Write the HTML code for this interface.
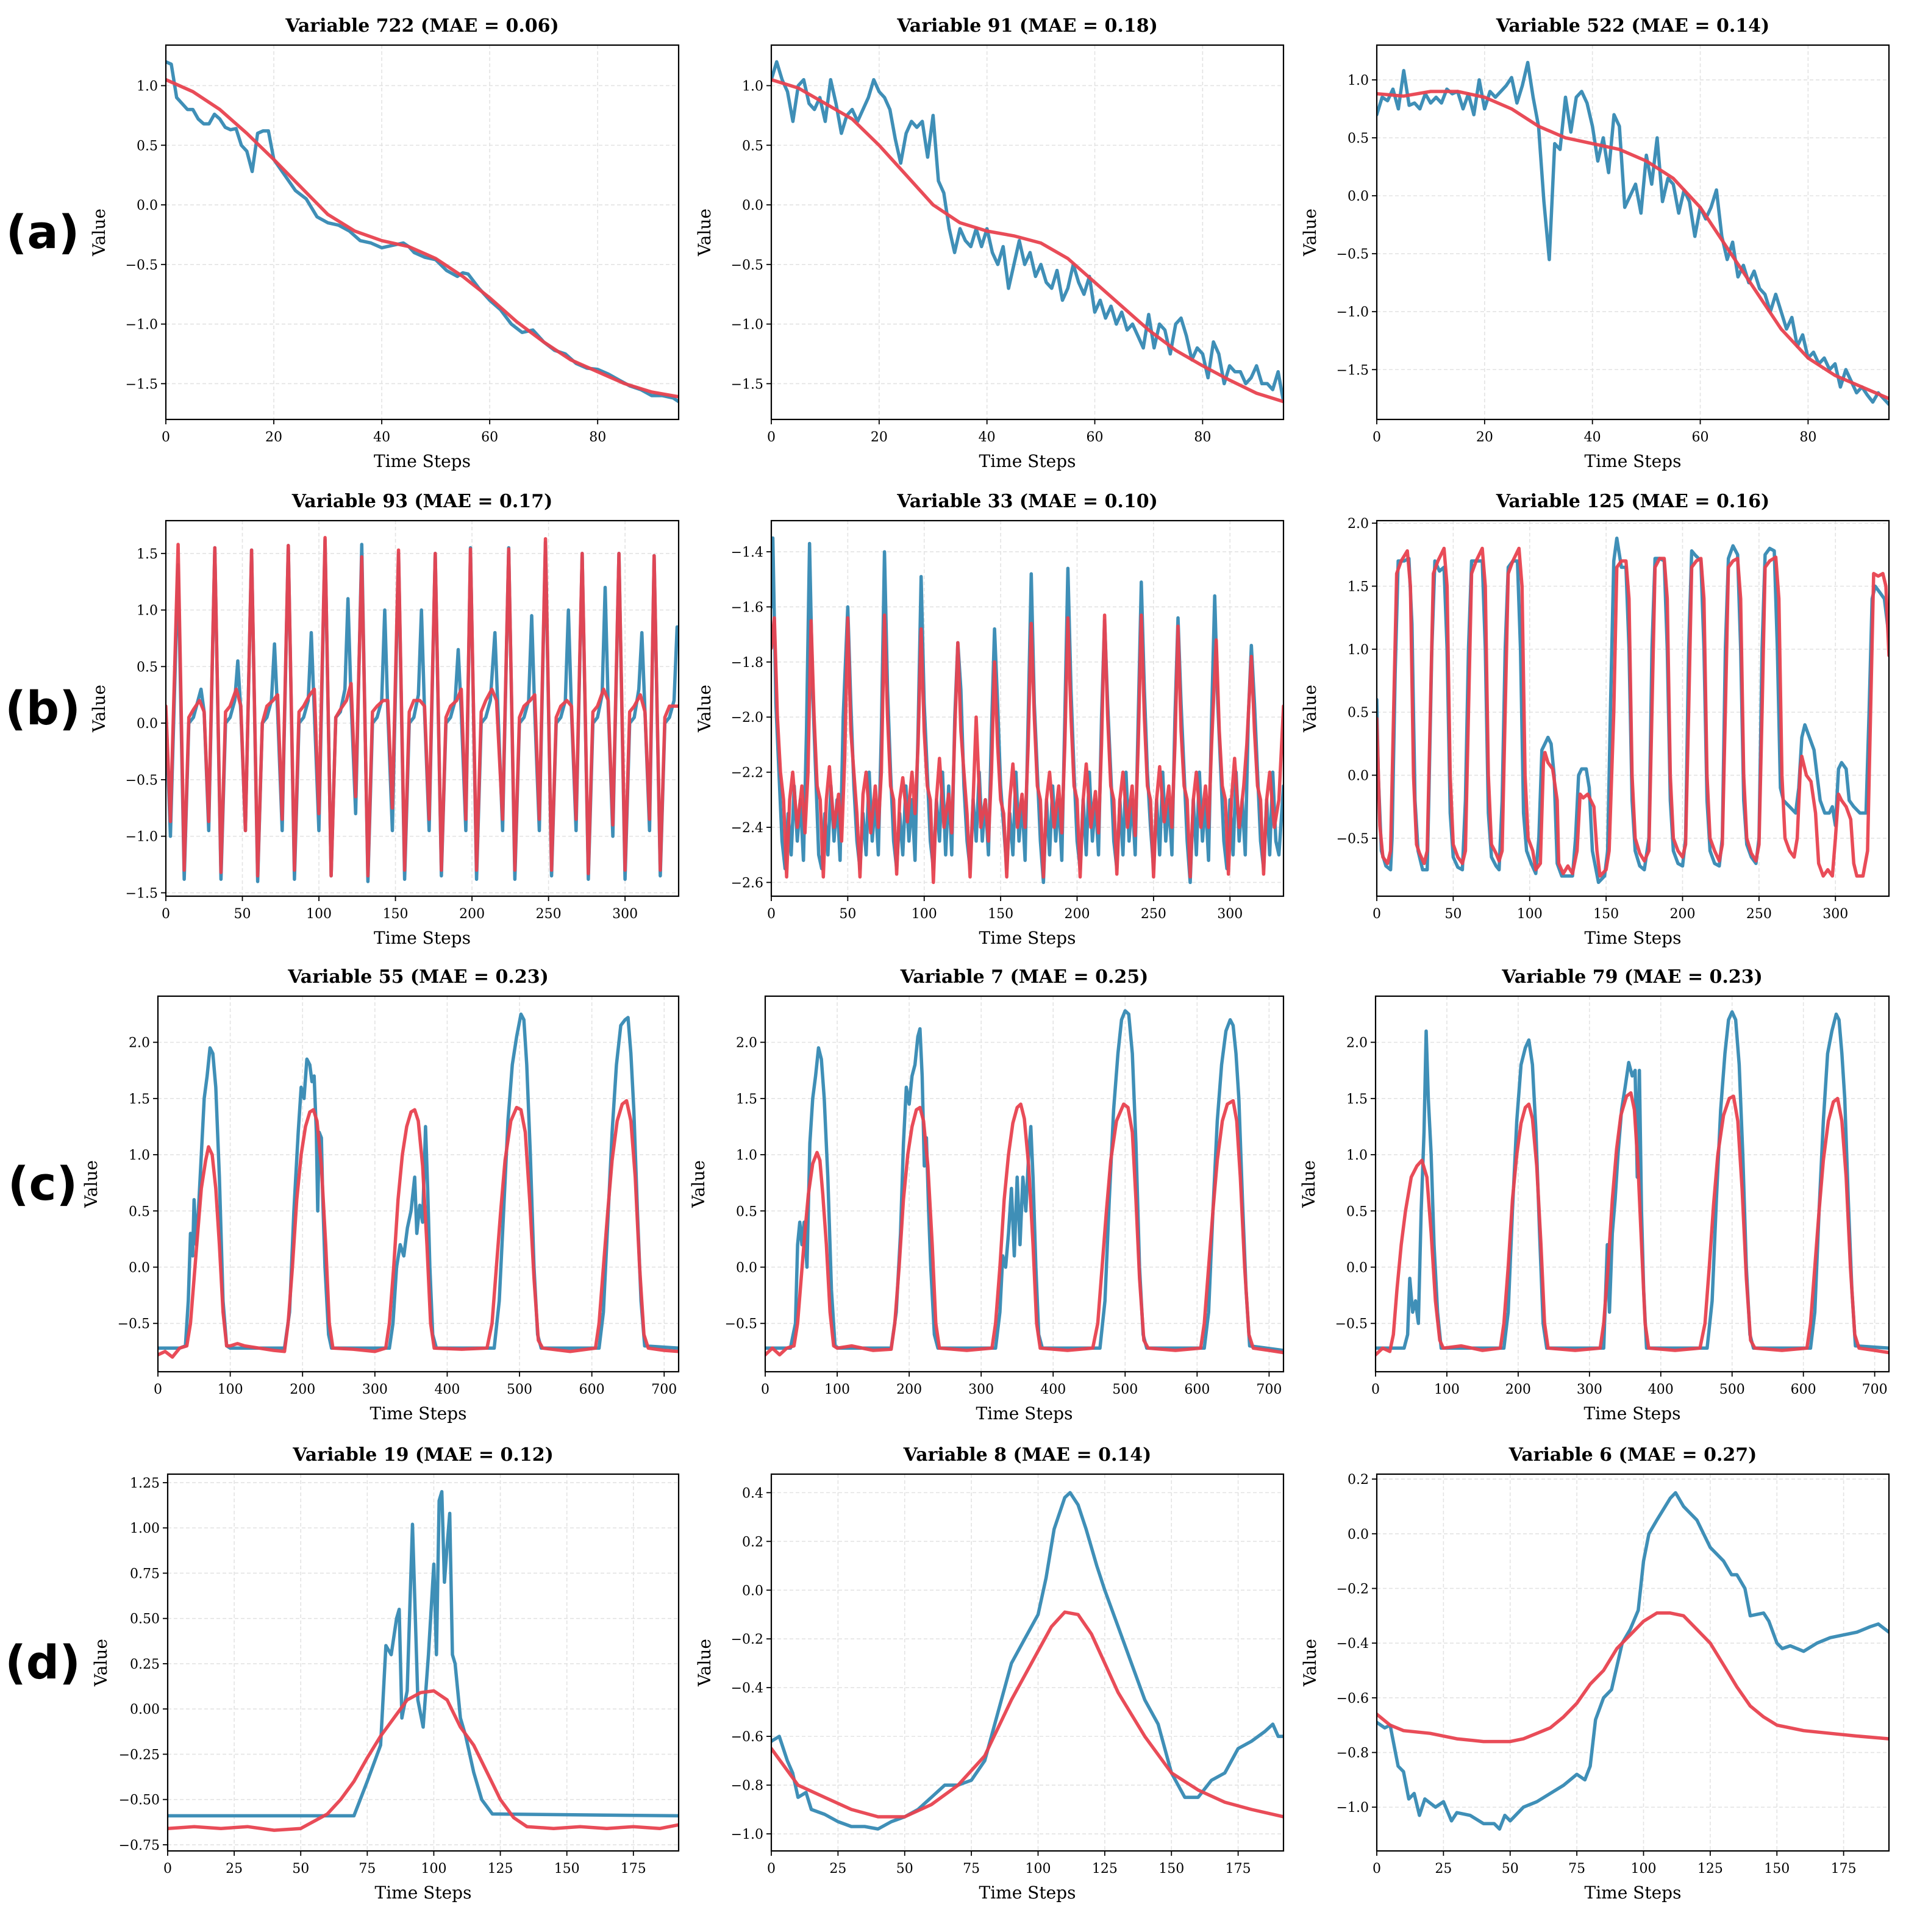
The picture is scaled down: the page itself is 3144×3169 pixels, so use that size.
<!DOCTYPE html>
<html><head><meta charset="utf-8"><title>Forecast panels</title>
<style>
html,body{margin:0;padding:0;background:#fff;}
svg{display:block;}
</style></head>
<body>
<svg id="fig" xmlns="http://www.w3.org/2000/svg" width="3144" height="3169" viewBox="0 0 3144 3169">
<rect width="3144" height="3169" fill="#fff"/>
</svg>
<script>
// ---------- tick arrays ----------
const ticksXa = [0,20,40,60,80];
const ticksXb = [0,50,100,150,200,250,300];
const ticksXc = [0,100,200,300,400,500,600,700];
const ticksXd = [0,25,50,75,100,125,150,175];
const ticksYa = [-1.5,-1.0,-0.5,0.0,0.5,1.0];
const ticksYb1 = [-1.5,-1.0,-0.5,0.0,0.5,1.0,1.5];
const ticksYb2 = [-2.6,-2.4,-2.2,-2.0,-1.8,-1.6,-1.4];
const ticksYb3 = [-0.5,0.0,0.5,1.0,1.5,2.0];
const ticksYc = [-0.5,0.0,0.5,1.0,1.5,2.0];
const ticksYd1 = [-0.75,-0.5,-0.25,0.0,0.25,0.5,0.75,1.0,1.25];
const ticksYd2 = [-1.0,-0.8,-0.6,-0.4,-0.2,0.0,0.2,0.4];
const ticksYd3 = [-1.0,-0.8,-0.6,-0.4,-0.2,0.0,0.2];

// ---------- series data [timeStep, value] ----------
const a1Actual = [[0,1.2],[1,1.18],[2,0.9],[3,0.85],[4,0.8],[5,0.8],[6,0.72],[7,0.68],[8,0.68],[9,0.76],[10,0.72],[11,0.65],[12,0.63],[13,0.64],[14,0.5],[15,0.45],[16,0.28],[17,0.6],[18,0.62],[19,0.62],[20,0.38],[22,0.25],[24,0.12],[26,0.05],[28,-0.1],[30,-0.15],[32,-0.17],[34,-0.22],[36,-0.3],[38,-0.32],[40,-0.36],[42,-0.34],[44,-0.32],[45,-0.35],[46,-0.4],[48,-0.44],[50,-0.46],[52,-0.55],[54,-0.6],[55,-0.57],[56,-0.58],[58,-0.7],[60,-0.8],[62,-0.88],[64,-1.0],[66,-1.07],[68,-1.05],[70,-1.15],[72,-1.22],[74,-1.25],[76,-1.33],[78,-1.37],[80,-1.38],[82,-1.42],[84,-1.47],[86,-1.52],[88,-1.55],[90,-1.6],[92,-1.6],[94,-1.62],[95,-1.65]];
const a1Pred = [[0,1.05],[5,0.95],[10,0.8],[15,0.6],[20,0.38],[25,0.15],[30,-0.08],[35,-0.22],[40,-0.3],[45,-0.35],[50,-0.45],[55,-0.6],[60,-0.78],[65,-0.98],[70,-1.15],[75,-1.3],[80,-1.4],[85,-1.5],[90,-1.57],[95,-1.61]];
const a2Actual = [[0,1.05],[1,1.2],[2,1.05],[3,0.95],[4,0.7],[5,1.0],[6,1.05],[7,0.85],[8,0.8],[9,0.9],[10,0.7],[11,1.05],[12,0.85],[13,0.6],[14,0.75],[15,0.8],[16,0.7],[17,0.8],[18,0.9],[19,1.05],[20,0.95],[21,0.9],[22,0.8],[23,0.55],[24,0.35],[25,0.6],[26,0.7],[27,0.65],[28,0.7],[29,0.4],[30,0.75],[31,0.2],[32,0.1],[33,-0.2],[34,-0.4],[35,-0.2],[36,-0.3],[37,-0.35],[38,-0.2],[39,-0.35],[40,-0.2],[41,-0.4],[42,-0.5],[43,-0.35],[44,-0.7],[45,-0.5],[46,-0.3],[47,-0.5],[48,-0.4],[49,-0.6],[50,-0.5],[51,-0.65],[52,-0.7],[53,-0.55],[54,-0.8],[55,-0.7],[56,-0.5],[57,-0.65],[58,-0.75],[59,-0.6],[60,-0.9],[61,-0.8],[62,-0.95],[63,-0.85],[64,-1.0],[65,-0.9],[66,-1.05],[67,-1.0],[68,-1.1],[69,-1.2],[70,-0.92],[71,-1.2],[72,-1.0],[73,-1.05],[74,-1.25],[75,-1.0],[76,-0.95],[77,-1.1],[78,-1.3],[79,-1.2],[80,-1.25],[81,-1.45],[82,-1.15],[83,-1.25],[84,-1.5],[85,-1.35],[86,-1.4],[87,-1.4],[88,-1.5],[89,-1.45],[90,-1.35],[91,-1.5],[92,-1.5],[93,-1.55],[94,-1.4],[95,-1.65]];
const a2Pred = [[0,1.05],[5,0.98],[10,0.85],[15,0.72],[20,0.5],[25,0.25],[30,0.0],[35,-0.15],[40,-0.22],[45,-0.26],[50,-0.32],[55,-0.45],[60,-0.65],[65,-0.85],[70,-1.05],[75,-1.22],[80,-1.35],[85,-1.47],[90,-1.58],[95,-1.65]];
const a3Actual = [[0,0.7],[1,0.85],[2,0.82],[3,0.92],[4,0.75],[5,1.08],[6,0.78],[7,0.8],[8,0.75],[9,0.88],[10,0.8],[11,0.85],[12,0.8],[13,0.92],[14,0.88],[15,0.9],[16,0.75],[17,0.88],[18,0.7],[19,1.0],[20,0.75],[21,0.9],[22,0.85],[23,0.9],[24,0.95],[25,1.02],[26,0.8],[27,0.95],[28,1.15],[29,0.85],[30,0.6],[31,-0.05],[32,-0.55],[33,0.45],[34,0.4],[35,0.85],[36,0.55],[37,0.85],[38,0.9],[39,0.8],[40,0.6],[41,0.3],[42,0.5],[43,0.2],[44,0.7],[45,0.6],[46,-0.1],[47,0.0],[48,0.1],[49,-0.15],[50,0.35],[51,0.1],[52,0.5],[53,-0.05],[54,0.15],[55,0.1],[56,-0.15],[57,0.05],[58,-0.05],[59,-0.35],[60,-0.1],[61,-0.2],[62,-0.1],[63,0.05],[64,-0.35],[65,-0.55],[66,-0.4],[67,-0.7],[68,-0.6],[69,-0.75],[70,-0.65],[71,-0.8],[72,-0.85],[73,-1.0],[74,-0.85],[75,-1.0],[76,-1.15],[77,-1.05],[78,-1.3],[79,-1.2],[80,-1.4],[81,-1.35],[82,-1.45],[83,-1.4],[84,-1.5],[85,-1.45],[86,-1.65],[87,-1.5],[88,-1.6],[89,-1.7],[90,-1.65],[91,-1.72],[92,-1.78],[93,-1.7],[94,-1.75],[95,-1.8]];
const a3Pred = [[0,0.88],[5,0.86],[10,0.9],[15,0.9],[20,0.85],[25,0.75],[30,0.6],[35,0.5],[40,0.45],[45,0.4],[50,0.3],[55,0.15],[60,-0.1],[65,-0.45],[70,-0.8],[75,-1.15],[80,-1.4],[85,-1.55],[90,-1.65],[95,-1.75]];

const b1Actual = [[0,0.1],[3,-1.0],[8,1.4],[12,-1.38],[15,0.0],[18,0.05],[21,0.2],[23,0.3],[25,0.1],[28,-0.95],
[32,1.55],[36,-1.38],[39,0.0],[42,0.05],[45,0.2],[47,0.55],[49,0.1],[52,-0.95],
[56,1.53],[60,-1.4],[63,0.0],[66,0.05],[69,0.2],[71,0.7],[73,0.1],[76,-0.95],
[80,1.57],[84,-1.38],[87,0.0],[90,0.05],[93,0.2],[95,0.8],[97,0.1],[100,-0.95],
[104,1.62],[108,-1.35],[111,0.05],[114,0.1],[117,0.3],[119,1.1],[121,0.2],[124,-0.8],
[128,1.58],[132,-1.4],[135,0.0],[138,0.05],[141,0.2],[143,1.0],[145,0.1],[148,-0.95],
[152,1.5],[156,-1.38],[159,0.0],[162,0.05],[165,0.25],[167,1.0],[169,0.1],[172,-0.95],
[176,1.5],[180,-1.35],[183,0.0],[186,0.05],[189,0.2],[191,0.65],[193,0.1],[196,-0.95],
[199,1.55],[203,-1.38],[206,0.0],[209,0.05],[212,0.2],[215,0.8],[217,0.1],[220,-0.95],
[224,1.55],[228,-1.38],[231,0.0],[234,0.05],[237,0.2],[239,0.95],[241,0.1],[244,-0.95],
[248,1.6],[252,-1.35],[255,0.0],[258,0.05],[261,0.2],[263,1.0],[265,0.1],[268,-0.95],
[272,1.5],[276,-1.38],[279,0.0],[282,0.05],[285,0.25],[287,1.2],[289,0.15],[292,-1.0],
[296,1.5],[300,-1.38],[303,0.0],[306,0.05],[309,0.3],[311,0.8],[313,0.1],[316,-0.95],
[319,1.48],[323,-1.35],[326,0.0],[329,0.05],[332,0.2],[334,0.85],[335,0.75]];
const b1Pred = [[0,0.15],[3,-0.87],[8,1.58],[12,-1.3],[15,0.05],[18,0.12],[22,0.2],[25,0.1],[28,-0.87],
[32,1.55],[36,-1.32],[39,0.1],[42,0.15],[46,0.3],[49,0.15],[52,-0.95],
[56,1.53],[60,-1.35],[63,0.0],[66,0.15],[70,0.2],[73,0.25],[76,-0.85],
[80,1.57],[84,-1.3],[87,0.1],[90,0.15],[94,0.25],[97,0.3],[100,-0.8],
[104,1.64],[108,-1.35],[111,0.05],[114,0.12],[118,0.2],[121,0.35],[124,-0.65],
[128,1.47],[132,-1.35],[135,0.1],[138,0.15],[142,0.2],[145,0.2],[148,-0.75],
[152,1.53],[156,-1.3],[159,0.1],[162,0.2],[166,0.2],[169,0.15],[172,-0.85],
[176,1.5],[180,-1.3],[183,0.05],[186,0.15],[190,0.2],[193,0.3],[196,-0.85],
[199,1.54],[203,-1.3],[206,0.1],[209,0.2],[213,0.3],[216,0.2],[220,-0.85],
[224,1.54],[228,-1.3],[231,0.05],[234,0.15],[238,0.2],[241,0.25],[244,-0.85],
[248,1.63],[252,-1.3],[255,0.05],[258,0.15],[262,0.2],[265,0.15],[268,-0.85],
[272,1.5],[276,-1.33],[279,0.1],[282,0.15],[286,0.3],[289,0.2],[292,-0.9],
[296,1.5],[300,-1.3],[303,0.1],[306,0.15],[310,0.25],[313,0.1],[316,-0.85],
[319,1.48],[323,-1.3],[326,0.05],[329,0.15],[333,0.15],[335,0.15]];

const b2Actual = [[0,-1.6],[1,-1.35],[3,-1.95],[5,-2.2],[7,-2.45],[9,-2.55],[11,-2.35],[13,-2.5],[15,-2.25],[17,-2.45],[19,-2.3],[21,-2.52],[23,-2.05],
[25,-1.37],[27,-1.9],[29,-2.2],[31,-2.5],[33,-2.55],[35,-2.35],[37,-2.5],[39,-2.25],[41,-2.45],[43,-2.3],[45,-2.52],[47,-2.0],
[50,-1.6],[52,-1.95],[54,-2.25],[56,-2.45],[58,-2.55],[60,-2.35],[62,-2.5],[64,-2.2],[66,-2.45],[68,-2.3],[70,-2.5],[72,-2.05],
[74,-1.4],[76,-1.9],[78,-2.2],[80,-2.45],[82,-2.55],[84,-2.35],[86,-2.5],[88,-2.25],[90,-2.45],[92,-2.3],[94,-2.52],[96,-2.05],
[98,-1.49],[100,-1.95],[102,-2.2],[104,-2.45],[106,-2.55],[108,-2.3],[110,-2.45],[112,-2.2],[114,-2.5],[116,-2.25],[118,-2.5],[120,-2.0],
[122,-1.73],[124,-1.9],[126,-2.25],[128,-2.45],[130,-2.55],[132,-2.3],[134,-2.45],[136,-2.2],[138,-2.45],[140,-2.3],[142,-2.5],[144,-2.05],
[146,-1.68],[148,-1.95],[150,-2.25],[152,-2.4],[154,-2.55],[156,-2.35],[158,-2.5],[160,-2.2],[162,-2.45],[164,-2.3],[166,-2.52],[168,-2.0],
[170,-1.48],[172,-1.95],[174,-2.2],[176,-2.45],[178,-2.6],[180,-2.3],[182,-2.5],[184,-2.25],[186,-2.45],[188,-2.3],[190,-2.52],[192,-2.0],
[194,-1.46],[196,-1.9],[198,-2.2],[200,-2.45],[202,-2.55],[204,-2.3],[206,-2.5],[208,-2.2],[210,-2.45],[212,-2.3],[214,-2.5],[216,-2.0],
[218,-1.65],[220,-1.95],[222,-2.2],[224,-2.45],[226,-2.55],[228,-2.3],[230,-2.5],[232,-2.2],[234,-2.45],[236,-2.3],[238,-2.5],[240,-2.0],
[242,-1.51],[244,-1.9],[246,-2.2],[248,-2.4],[250,-2.55],[252,-2.3],[254,-2.5],[256,-2.2],[258,-2.45],[260,-2.3],[262,-2.5],[264,-2.0],
[266,-1.64],[268,-1.95],[270,-2.2],[272,-2.45],[274,-2.6],[276,-2.3],[278,-2.5],[280,-2.2],[282,-2.45],[284,-2.3],[286,-2.52],[288,-2.0],
[290,-1.56],[292,-1.95],[294,-2.2],[296,-2.45],[298,-2.55],[300,-2.3],[302,-2.5],[304,-2.2],[306,-2.45],[308,-2.3],[310,-2.5],[312,-2.0],
[314,-1.74],[316,-1.95],[318,-2.2],[320,-2.45],[322,-2.55],[324,-2.3],[326,-2.5],[328,-2.2],[330,-2.45],[332,-2.5],[335,-2.25]];
const b2Pred = [[0,-1.75],[2,-1.64],[4,-2.0],[6,-2.2],[8,-2.3],[10,-2.58],[12,-2.3],[14,-2.2],[17,-2.4],[20,-2.25],[22,-2.42],[24,-2.2],
[26,-1.65],[28,-2.0],[30,-2.25],[32,-2.3],[34,-2.58],[36,-2.3],[38,-2.18],[41,-2.4],[44,-2.28],[46,-2.45],[48,-2.15],
[50,-1.64],[52,-2.05],[54,-2.2],[56,-2.35],[58,-2.58],[60,-2.28],[62,-2.2],[65,-2.42],[68,-2.25],[70,-2.4],[72,-2.2],
[74,-1.63],[76,-2.0],[78,-2.25],[80,-2.3],[82,-2.57],[84,-2.3],[86,-2.22],[89,-2.38],[92,-2.2],[94,-2.35],[96,-2.1],
[98,-1.68],[100,-2.05],[102,-2.25],[104,-2.3],[106,-2.6],[108,-2.3],[110,-2.15],[113,-2.4],[116,-2.28],[118,-2.42],[120,-2.05],
[122,-1.73],[124,-2.05],[126,-2.2],[128,-2.35],[130,-2.58],[132,-2.3],[134,-2.0],[137,-2.4],[140,-2.3],[142,-2.45],[144,-2.2],
[146,-1.8],[148,-2.1],[150,-2.3],[152,-2.35],[154,-2.58],[156,-2.3],[158,-2.17],[161,-2.4],[164,-2.28],[166,-2.4],[168,-2.1],
[170,-1.66],[172,-2.0],[174,-2.25],[176,-2.3],[178,-2.58],[180,-2.3],[182,-2.2],[185,-2.4],[188,-2.25],[190,-2.42],[192,-2.1],
[194,-1.64],[196,-2.0],[198,-2.25],[200,-2.3],[202,-2.58],[204,-2.3],[206,-2.17],[209,-2.4],[212,-2.27],[214,-2.42],[216,-2.1],
[218,-1.63],[220,-2.0],[222,-2.25],[224,-2.3],[226,-2.57],[228,-2.3],[230,-2.2],[233,-2.4],[236,-2.25],[238,-2.43],[240,-2.1],
[242,-1.63],[244,-2.0],[246,-2.25],[248,-2.3],[250,-2.58],[252,-2.3],[254,-2.18],[257,-2.38],[260,-2.25],[262,-2.4],[264,-2.1],
[266,-1.67],[268,-2.05],[270,-2.25],[272,-2.3],[274,-2.58],[276,-2.3],[278,-2.2],[281,-2.4],[284,-2.25],[286,-2.4],[288,-2.1],
[291,-1.72],[293,-2.05],[295,-2.25],[297,-2.3],[299,-2.57],[301,-2.3],[303,-2.15],[306,-2.4],[309,-2.25],[311,-2.1],
[314,-1.78],[316,-2.05],[318,-2.25],[320,-2.3],[322,-2.57],[324,-2.3],[326,-2.2],[329,-2.4],[332,-2.3],[335,-1.96]];

const b3Actual = [[0,0.6],[1,0.0],[3,-0.6],[6,-0.72],[9,-0.75],[10,-0.5],[12,0.8],[14,1.7],[18,1.7],[21,1.72],[23,1.2],[25,-0.2],[27,-0.6],[30,-0.75],[33,-0.75],
[34,-0.2],[36,1.0],[38,1.7],[41,1.62],[44,1.65],[46,1.0],[48,-0.3],[50,-0.65],[53,-0.73],[56,-0.75],[58,-0.2],
[60,1.0],[62,1.7],[66,1.7],[69,1.7],[71,1.0],[73,-0.3],[75,-0.65],[78,-0.72],[80,-0.75],[82,-0.2],
[84,1.0],[86,1.65],[89,1.7],[92,1.7],[94,1.0],[96,-0.3],[98,-0.6],[101,-0.7],[104,-0.78],[106,-0.5],
[108,0.2],[110,0.25],[112,0.3],[114,0.25],[116,0.0],[118,-0.7],[121,-0.8],[125,-0.8],[128,-0.8],[130,-0.5],
[132,0.0],[134,0.05],[137,0.05],[139,-0.1],[141,-0.6],[145,-0.85],[149,-0.8],[151,-0.6],
[153,0.6],[155,1.7],[157,1.88],[160,1.65],[163,1.65],[165,1.0],[167,-0.2],[169,-0.6],[172,-0.72],[175,-0.75],[178,-0.5],
[180,1.0],[182,1.72],[185,1.72],[188,1.7],[190,1.0],[192,-0.2],[194,-0.6],[197,-0.7],[200,-0.72],[202,-0.5],
[204,1.0],[206,1.78],[208,1.75],[212,1.7],[214,1.0],[216,-0.2],[218,-0.6],[221,-0.7],[224,-0.72],[226,-0.5],
[228,1.0],[230,1.72],[233,1.82],[236,1.75],[238,1.0],[240,-0.2],[242,-0.55],[245,-0.65],[248,-0.7],[250,-0.5],
[252,1.0],[254,1.75],[257,1.8],[260,1.78],[262,1.0],[264,-0.1],[266,-0.2],[270,-0.25],[274,-0.3],[276,-0.1],
[278,0.3],[280,0.4],[283,0.3],[286,0.2],[288,0.0],[290,-0.2],[293,-0.3],[296,-0.3],[298,-0.25],[300,-0.4],
[302,0.05],[304,0.1],[307,0.05],[309,-0.2],[312,-0.25],[316,-0.3],[320,-0.3],[322,0.5],
[324,1.4],[326,1.5],[329,1.45],[332,1.4],[335,1.1]];
const b3Pred = [[0,0.45],[2,-0.4],[4,-0.65],[7,-0.7],[9,-0.6],[11,0.5],[13,1.6],[16,1.7],[20,1.78],[22,1.5],[24,0.0],[26,-0.55],[28,-0.62],[31,-0.7],[33,-0.6],
[35,0.5],[37,1.6],[40,1.7],[44,1.8],[46,1.5],[48,0.0],[50,-0.55],[53,-0.65],[56,-0.7],[58,-0.6],
[60,0.5],[62,1.6],[65,1.7],[69,1.8],[71,1.5],[73,0.0],[75,-0.55],[78,-0.62],[80,-0.68],[82,-0.6],
[84,0.5],[86,1.6],[89,1.7],[93,1.8],[95,1.5],[97,0.0],[99,-0.5],[102,-0.6],[104,-0.75],[107,-0.7],
[109,0.1],[110,0.18],[112,0.1],[115,0.05],[118,-0.2],[119,-0.7],[122,-0.78],[125,-0.72],[128,-0.78],[131,-0.6],
[133,-0.15],[135,-0.18],[138,-0.15],[142,-0.25],[144,-0.6],[146,-0.8],[150,-0.75],[152,-0.6],
[155,0.5],[157,1.65],[160,1.7],[163,1.7],[165,1.4],[167,0.0],[169,-0.5],[172,-0.62],[175,-0.68],[178,-0.6],
[180,0.5],[182,1.65],[185,1.72],[188,1.72],[190,1.4],[192,0.0],[194,-0.5],[197,-0.6],[200,-0.65],[202,-0.55],
[204,0.5],[206,1.65],[209,1.7],[212,1.72],[214,1.4],[216,0.0],[218,-0.5],[221,-0.6],[224,-0.68],[226,-0.55],
[228,0.5],[230,1.65],[233,1.7],[236,1.72],[238,1.4],[240,0.0],[242,-0.5],[245,-0.62],[248,-0.68],[250,-0.55],
[252,0.5],[254,1.65],[257,1.7],[261,1.73],[263,1.4],[265,0.0],[267,-0.5],[270,-0.6],[273,-0.65],[275,-0.5],
[277,0.05],[278,0.15],[281,0.0],[284,-0.05],[287,-0.3],[289,-0.7],[292,-0.8],[295,-0.75],[298,-0.8],[300,-0.5],
[302,-0.15],[304,-0.2],[307,-0.25],[310,-0.35],[312,-0.7],[314,-0.8],[318,-0.8],[321,-0.6],
[323,0.5],[325,1.6],[328,1.58],[331,1.6],[333,1.5],[335,0.95]];

const c1Actual = [[0,-0.72],[30,-0.72],[38,-0.7],[42,-0.3],[45,0.3],[48,0.1],[50,0.6],[53,0.2],[56,0.5],[60,1.0],[64,1.5],[68,1.7],[72,1.95],[76,1.9],[80,1.6],[85,0.8],[90,-0.3],[95,-0.7],[100,-0.72],
[175,-0.72],[182,-0.4],[188,0.5],[194,1.2],[198,1.6],[202,1.5],[206,1.85],[210,1.8],[213,1.65],[216,1.7],[219,1.2],[221,0.5],[223,1.2],[226,1.15],[228,0.6],[231,0.0],[236,-0.6],[240,-0.72],
[320,-0.72],[325,-0.5],[330,0.0],[335,0.2],[340,0.1],[345,0.35],[350,0.5],[355,0.8],[358,0.3],[362,0.55],[366,0.4],[370,1.25],[373,0.7],[376,0.0],[380,-0.6],[385,-0.72],
[465,-0.72],[472,-0.3],[478,0.5],[484,1.3],[490,1.8],[496,2.05],[502,2.25],[506,2.2],[510,1.8],[515,1.0],[520,0.0],[525,-0.6],[530,-0.72],
[610,-0.72],[616,-0.4],[622,0.4],[628,1.2],[634,1.8],[640,2.15],[646,2.2],[650,2.22],[654,1.9],[658,1.4],[663,0.5],[668,-0.3],[673,-0.7],[720,-0.72]];
const c1Pred = [[0,-0.78],[10,-0.75],[20,-0.8],[30,-0.72],[40,-0.7],[45,-0.5],[50,-0.1],[55,0.3],[60,0.7],[66,0.95],[70,1.07],[75,1.0],[80,0.7],[85,0.2],[90,-0.4],[95,-0.7],[100,-0.7],[110,-0.68],[120,-0.7],[140,-0.72],[160,-0.74],[175,-0.75],
[180,-0.5],[186,0.0],[192,0.6],[198,1.0],[204,1.25],[210,1.38],[215,1.4],[220,1.3],[226,0.9],[232,0.2],[237,-0.5],[242,-0.72],[270,-0.73],[300,-0.75],[315,-0.72],
[320,-0.5],[326,0.0],[332,0.6],[338,1.0],[344,1.25],[350,1.38],[355,1.4],[360,1.3],[366,0.9],[372,0.2],[377,-0.5],[382,-0.72],[420,-0.73],[455,-0.72],
[462,-0.5],[468,0.0],[474,0.5],[480,0.95],[488,1.3],[496,1.42],[502,1.4],[508,1.2],[514,0.6],[520,-0.1],[526,-0.65],[532,-0.72],[570,-0.75],[605,-0.72],
[610,-0.5],[616,0.0],[622,0.5],[628,0.95],[635,1.3],[642,1.45],[648,1.48],[654,1.3],[660,0.8],[666,0.0],[672,-0.6],[678,-0.72],[700,-0.74],[720,-0.75]];
const c2Actual = [[0,-0.72],[35,-0.72],[42,-0.5],[45,0.2],[48,0.4],[51,0.2],[54,0.4],[58,0.0],[62,1.1],[66,1.5],[70,1.7],[74,1.95],[78,1.85],[82,1.5],[87,0.8],[92,-0.2],[97,-0.7],[102,-0.72],
[175,-0.72],[182,-0.4],[188,0.3],[192,1.1],[196,1.6],[200,1.45],[204,1.7],[208,1.8],[212,2.05],[215,2.12],[218,1.7],[221,0.9],[224,1.15],[227,0.5],[230,0.0],[235,-0.6],[240,-0.72],
[320,-0.72],[326,-0.4],[330,0.1],[334,0.0],[338,0.3],[342,0.7],[346,0.1],[350,0.8],[354,0.2],[358,0.8],[362,0.5],[366,1.0],[369,1.25],[372,0.8],[376,0.0],[380,-0.6],[385,-0.72],
[465,-0.72],[472,-0.3],[478,0.6],[484,1.4],[490,1.9],[495,2.2],[500,2.28],[505,2.25],[510,1.9],[515,1.1],[520,0.0],[525,-0.6],[530,-0.72],
[610,-0.72],[616,-0.4],[622,0.5],[628,1.3],[634,1.8],[640,2.1],[646,2.2],[650,2.15],[654,1.9],[658,1.5],[663,0.6],[668,-0.2],[673,-0.7],[720,-0.74]];
const c2Pred = [[0,-0.78],[10,-0.72],[20,-0.78],[30,-0.72],[40,-0.7],[45,-0.5],[50,-0.1],[55,0.3],[60,0.65],[66,0.92],[72,1.02],[76,0.95],[80,0.65],[85,0.2],[90,-0.4],[95,-0.7],[100,-0.72],[120,-0.7],[150,-0.74],[175,-0.73],
[180,-0.5],[186,0.0],[192,0.6],[198,1.0],[204,1.25],[210,1.4],[215,1.42],[220,1.3],[226,0.9],[232,0.2],[237,-0.5],[242,-0.72],[280,-0.74],[315,-0.72],
[320,-0.5],[326,0.0],[332,0.6],[338,1.0],[344,1.28],[350,1.42],[355,1.45],[360,1.32],[366,0.9],[372,0.2],[377,-0.5],[382,-0.72],[420,-0.74],[455,-0.72],
[462,-0.5],[468,0.0],[474,0.5],[480,0.95],[488,1.3],[498,1.45],[504,1.42],[510,1.2],[515,0.6],[520,-0.1],[526,-0.65],[532,-0.72],[570,-0.74],[605,-0.72],
[610,-0.5],[616,0.0],[622,0.5],[628,0.95],[635,1.3],[642,1.45],[650,1.48],[655,1.3],[660,0.8],[666,0.0],[672,-0.6],[678,-0.72],[700,-0.74],[720,-0.76]];
const c3Actual = [[0,-0.72],[40,-0.72],[45,-0.6],[48,-0.1],[52,-0.4],[56,-0.3],[60,-0.5],[64,0.5],[68,1.2],[71,2.1],[74,1.5],[78,1.0],[82,0.2],[87,-0.4],[92,-0.72],[100,-0.72],
[180,-0.72],[186,-0.4],[192,0.5],[198,1.3],[204,1.8],[210,1.95],[215,2.02],[220,1.8],[225,1.2],[230,0.3],[235,-0.5],[240,-0.72],
[320,-0.72],[325,0.2],[328,-0.4],[332,0.3],[336,0.6],[340,1.0],[345,1.4],[350,1.6],[355,1.82],[360,1.7],[364,1.75],[367,0.8],[370,1.75],[373,0.5],[376,-0.2],[380,-0.72],
[465,-0.72],[472,-0.3],[478,0.6],[484,1.4],[490,1.9],[495,2.2],[500,2.27],[505,2.2],[510,1.8],[515,1.0],[520,0.0],[525,-0.6],[530,-0.72],
[610,-0.72],[616,-0.4],[622,0.5],[628,1.3],[634,1.9],[640,2.1],[646,2.25],[650,2.2],[654,1.9],[658,1.5],[663,0.6],[668,-0.2],[673,-0.7],[720,-0.72]];
const c3Pred = [[0,-0.78],[10,-0.72],[20,-0.75],[25,-0.6],[30,-0.2],[36,0.2],[42,0.5],[50,0.8],[58,0.9],[65,0.95],[72,0.8],[78,0.3],[84,-0.3],[90,-0.65],[95,-0.72],[120,-0.7],[150,-0.74],[175,-0.72],
[180,-0.5],[186,0.0],[192,0.6],[198,1.0],[204,1.28],[210,1.42],[215,1.45],[220,1.32],[226,0.9],[232,0.2],[237,-0.5],[242,-0.72],[280,-0.74],[315,-0.72],
[320,-0.5],[326,0.0],[332,0.6],[338,1.05],[344,1.35],[352,1.52],[358,1.55],[363,1.4],[368,0.9],[373,0.2],[378,-0.5],[383,-0.72],[420,-0.74],[455,-0.72],
[462,-0.5],[468,0.0],[474,0.55],[480,1.0],[488,1.35],[496,1.5],[502,1.52],[508,1.3],[514,0.7],[520,-0.1],[526,-0.65],[532,-0.72],[570,-0.74],[605,-0.72],
[610,-0.5],[616,0.0],[622,0.5],[628,0.95],[635,1.3],[642,1.47],[648,1.5],[654,1.3],[660,0.8],[666,0.0],[672,-0.6],[678,-0.72],[700,-0.74],[720,-0.76]];

const d1Actual = [[0,-0.59],[70,-0.59],[75,-0.4],[80,-0.2],[82,0.35],[84,0.3],[86,0.5],[87,0.55],[88,-0.05],[90,0.1],[92,1.02],[94,0.05],[96,-0.1],[98,0.3],[100,0.8],[101,0.3],[102,1.15],[103,1.2],[104,0.7],[105,0.9],[106,1.08],[107,0.3],[108,0.25],[110,-0.05],[112,-0.15],[115,-0.35],[118,-0.5],[122,-0.58],[192,-0.59]];
const d1Pred = [[0,-0.66],[10,-0.65],[20,-0.66],[30,-0.65],[40,-0.67],[50,-0.66],[55,-0.62],[60,-0.58],[65,-0.5],[70,-0.4],[75,-0.27],[80,-0.15],[85,-0.05],[90,0.05],[95,0.09],[100,0.1],[105,0.05],[110,-0.1],[115,-0.2],[120,-0.35],[125,-0.5],[130,-0.6],[135,-0.65],[145,-0.66],[155,-0.65],[165,-0.66],[175,-0.65],[185,-0.66],[192,-0.64]];
const d2Actual = [[0,-0.62],[3,-0.6],[6,-0.7],[8,-0.75],[10,-0.85],[13,-0.83],[15,-0.9],[20,-0.92],[25,-0.95],[30,-0.97],[35,-0.97],[40,-0.98],[45,-0.95],[50,-0.93],[55,-0.9],[60,-0.85],[65,-0.8],[70,-0.8],[75,-0.78],[80,-0.7],[85,-0.5],[90,-0.3],[95,-0.2],[100,-0.1],[103,0.05],[106,0.25],[110,0.38],[112,0.4],[115,0.35],[118,0.25],[122,0.1],[125,0.0],[130,-0.15],[135,-0.3],[140,-0.45],[145,-0.55],[150,-0.75],[155,-0.85],[160,-0.85],[165,-0.78],[170,-0.75],[175,-0.65],[180,-0.62],[185,-0.58],[188,-0.55],[190,-0.6],[192,-0.6]];
const d2Pred = [[0,-0.65],[10,-0.8],[20,-0.85],[30,-0.9],[40,-0.93],[50,-0.93],[60,-0.88],[70,-0.8],[80,-0.68],[90,-0.45],[100,-0.25],[105,-0.15],[110,-0.09],[115,-0.1],[120,-0.18],[125,-0.3],[130,-0.42],[140,-0.6],[150,-0.75],[160,-0.82],[170,-0.87],[180,-0.9],[192,-0.93]];
const d3Actual = [[0,-0.69],[3,-0.71],[5,-0.7],[8,-0.85],[10,-0.87],[12,-0.97],[14,-0.95],[16,-1.03],[18,-0.97],[22,-1.0],[25,-0.98],[28,-1.05],[30,-1.02],[35,-1.03],[40,-1.06],[44,-1.06],[46,-1.08],[48,-1.03],[50,-1.05],[55,-1.0],[60,-0.98],[65,-0.95],[70,-0.92],[75,-0.88],[78,-0.9],[80,-0.85],[82,-0.68],[85,-0.6],[88,-0.57],[92,-0.4],[95,-0.35],[98,-0.28],[100,-0.1],[102,0.0],[105,0.05],[110,0.13],[112,0.15],[115,0.1],[120,0.05],[125,-0.05],[130,-0.1],[133,-0.15],[135,-0.15],[138,-0.2],[140,-0.3],[145,-0.29],[147,-0.32],[150,-0.4],[152,-0.42],[155,-0.41],[160,-0.43],[165,-0.4],[170,-0.38],[175,-0.37],[180,-0.36],[185,-0.34],[188,-0.33],[192,-0.36]];
const d3Pred = [[0,-0.66],[5,-0.7],[10,-0.72],[20,-0.73],[30,-0.75],[40,-0.76],[50,-0.76],[55,-0.75],[60,-0.73],[65,-0.71],[70,-0.67],[75,-0.62],[80,-0.55],[85,-0.5],[90,-0.42],[95,-0.37],[100,-0.32],[105,-0.29],[110,-0.29],[115,-0.3],[120,-0.35],[125,-0.4],[130,-0.48],[135,-0.56],[140,-0.63],[145,-0.67],[150,-0.7],[160,-0.72],[170,-0.73],[180,-0.74],[192,-0.75]];

// ---------- layout ----------
const NS = 'http://www.w3.org/2000/svg';
const svg = document.getElementById('fig');
const BLUE = '#3f8fb7', RED = '#e8424f';
function mk(tag, attrs, parent){
  const e = document.createElementNS(NS, tag);
  for (const k in attrs) e.setAttribute(k, attrs[k]);
  (parent || svg).appendChild(e);
  return e;
}
function fmt(v, dec){ const s = Math.abs(v).toFixed(dec); return (v < 0 ? '\u2212' : '') + s; }

const panels = [
 {id:'a1', L:272,R:1113,T:74,B:688, x0:0,x1:95, y0:-1.80,y1:1.34, xt:ticksXa, yt:ticksYa, dec:1, title:'Variable 722 (MAE = 0.06)', act:a1Actual, pred:a1Pred},
 {id:'a2', L:1265,R:2105,T:74,B:688, x0:0,x1:95, y0:-1.80,y1:1.34, xt:ticksXa, yt:ticksYa, dec:1, title:'Variable 91 (MAE = 0.18)', act:a2Actual, pred:a2Pred},
 {id:'a3', L:2258,R:3098,T:74,B:688, x0:0,x1:95, y0:-1.93,y1:1.30, xt:ticksXa, yt:ticksYa, dec:1, title:'Variable 522 (MAE = 0.14)', act:a3Actual, pred:a3Pred},
 {id:'b1', L:272,R:1113,T:854,B:1470, x0:0,x1:335, y0:-1.53,y1:1.79, xt:ticksXb, yt:ticksYb1, dec:1, title:'Variable 93 (MAE = 0.17)', act:b1Actual, pred:b1Pred},
 {id:'b2', L:1265,R:2105,T:854,B:1470, x0:0,x1:335, y0:-2.65,y1:-1.287, xt:ticksXb, yt:ticksYb2, dec:1, title:'Variable 33 (MAE = 0.10)', act:b2Actual, pred:b2Pred},
 {id:'b3', L:2258,R:3098,T:854,B:1470, x0:0,x1:335, y0:-0.96,y1:2.02, xt:ticksXb, yt:ticksYb3, dec:1, title:'Variable 125 (MAE = 0.16)', act:b3Actual, pred:b3Pred},
 {id:'c1', L:259,R:1113,T:1634,B:2250, x0:0,x1:720, y0:-0.93,y1:2.41, xt:ticksXc, yt:ticksYc, dec:1, title:'Variable 55 (MAE = 0.23)', act:c1Actual, pred:c1Pred},
 {id:'c2', L:1255,R:2105,T:1634,B:2250, x0:0,x1:720, y0:-0.93,y1:2.41, xt:ticksXc, yt:ticksYc, dec:1, title:'Variable 7 (MAE = 0.25)', act:c2Actual, pred:c2Pred},
 {id:'c3', L:2256,R:3098,T:1634,B:2250, x0:0,x1:720, y0:-0.93,y1:2.41, xt:ticksXc, yt:ticksYc, dec:1, title:'Variable 79 (MAE = 0.23)', act:c3Actual, pred:c3Pred},
 {id:'d1', L:275,R:1113,T:2418,B:3036, x0:0,x1:192, y0:-0.784,y1:1.297, xt:ticksXd, yt:ticksYd1, dec:2, title:'Variable 19 (MAE = 0.12)', act:d1Actual, pred:d1Pred},
 {id:'d2', L:1265,R:2105,T:2418,B:3036, x0:0,x1:192, y0:-1.07,y1:0.476, xt:ticksXd, yt:ticksYd2, dec:1, title:'Variable 8 (MAE = 0.14)', act:d2Actual, pred:d2Pred},
 {id:'d3', L:2258,R:3098,T:2418,B:3036, x0:0,x1:192, y0:-1.16,y1:0.218, xt:ticksXd, yt:ticksYd3, dec:1, title:'Variable 6 (MAE = 0.27)', act:d3Actual, pred:d3Pred}
];

const defs = mk('defs', {});
panels.forEach(p => {
  const g = mk('g', {});
  
  
  const sx = v => p.L + (v - p.x0) / (p.x1 - p.x0) * (p.R - p.L);
  const sy = v => p.B - (v - p.y0) / (p.y1 - p.y0) * (p.B - p.T);
  const cp = mk('clipPath', {id:'clip-' + p.id}, defs);
  mk('rect', {x:p.L, y:p.T, width:p.R-p.L, height:p.B-p.T}, cp);

  // grid
  p.xt.forEach(t => {
    const l = mk('line', {x1:sx(t), x2:sx(t), y1:p.T, y2:p.B, stroke:'#e3e3e3', 'stroke-width':1.6, 'stroke-dasharray':'6,4'}, g);
    
    
  });
  p.yt.forEach(t => {
    const l = mk('line', {x1:p.L, x2:p.R, y1:sy(t), y2:sy(t), stroke:'#e3e3e3', 'stroke-width':1.6, 'stroke-dasharray':'6,4'}, g);
    
    
  });

  // series
  const lg = mk('g', {'clip-path':'url(#clip-' + p.id + ')'}, g);
  const pa = mk('polyline', {points:p.act.map(d => sx(d[0]).toFixed(1) + ',' + sy(d[1]).toFixed(1)).join(' '), fill:'none', stroke:BLUE, 'stroke-width':5.5, 'stroke-linejoin':'round', 'stroke-linecap':'round'}, lg);
  
  
  const pp = mk('polyline', {points:p.pred.map(d => sx(d[0]).toFixed(1) + ',' + sy(d[1]).toFixed(1)).join(' '), fill:'none', stroke:RED, 'stroke-width':5.5, 'stroke-linejoin':'round', 'stroke-linecap':'round', 'stroke-opacity':0.95}, lg);
  
  

  // frame
  const fr = mk('rect', {x:p.L, y:p.T, width:p.R-p.L, height:p.B-p.T, fill:'none', stroke:'#000', 'stroke-width':2.2}, g);
  
  

  // ticks
  p.xt.forEach(t => {
    mk('line', {x1:sx(t), x2:sx(t), y1:p.B, y2:p.B+8, stroke:'#000', 'stroke-width':1.8}, g);
    const tx = mk('text', {x:sx(t), y:p.B+36, 'text-anchor':'middle', 'font-family':'"DejaVu Serif","Liberation Serif",serif', 'font-size':22, fill:'#000'}, g);
    tx.textContent = String(t);
    
    
  });
  p.yt.forEach(t => {
    mk('line', {x1:p.L-8, x2:p.L, y1:sy(t), y2:sy(t), stroke:'#000', 'stroke-width':1.8}, g);
    const ty = mk('text', {x:p.L-13, y:sy(t)+8, 'text-anchor':'end', 'font-family':'"DejaVu Serif","Liberation Serif",serif', 'font-size':22, fill:'#000'}, g);
    ty.textContent = fmt(t, p.dec);
    
    
  });

  // title & labels
  const ti = mk('text', {x:(p.L+p.R)/2, y:p.T-22, 'text-anchor':'middle', 'font-family':'"DejaVu Serif","Liberation Serif",serif', 'font-weight':'bold', 'font-size':30, fill:'#000'}, g);
  ti.textContent = p.title;
  
  
  const xl = mk('text', {x:(p.L+p.R)/2, y:p.B+78, 'text-anchor':'middle', 'font-family':'"DejaVu Serif","Liberation Serif",serif', 'font-size':28, fill:'#000'}, g);
  xl.textContent = 'Time Steps';
  
  
  const yx = p.L - 100, yy = (p.T + p.B) / 2;
  const yl = mk('text', {x:yx, y:yy, 'text-anchor':'middle', transform:'rotate(-90 ' + yx + ' ' + yy + ')', 'font-family':'"DejaVu Serif","Liberation Serif",serif', 'font-size':28, fill:'#000'}, g);
  yl.textContent = 'Value';
  
  
});

// row labels
const rowLabels = ['(a)','(b)','(c)','(d)'];
const rowCenters = [381, 1162, 1942, 2727];
rowLabels.forEach((s, i) => {
  const t = mk('text', {x:70, y:rowCenters[i] + 26, 'text-anchor':'middle', 'font-family':'"DejaVu Sans","Liberation Sans",sans-serif', 'font-weight':'bold', 'font-size':76, fill:'#000'});
  t.textContent = s;
  
  
});
</script>
</body></html>
